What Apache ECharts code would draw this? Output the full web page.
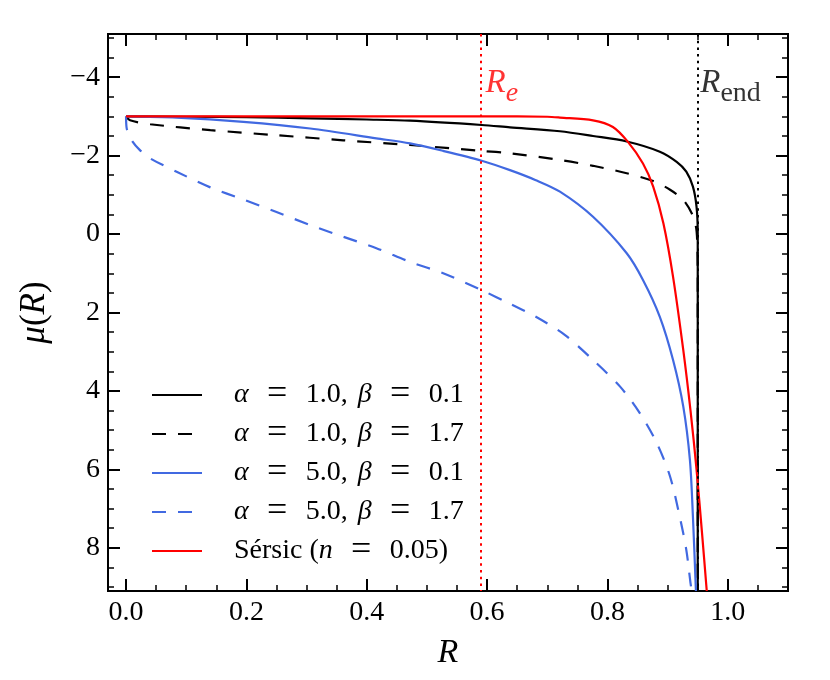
<!DOCTYPE html>
<html>
<head>
<meta charset="utf-8">
<title>mu(R)</title>
<script src="https://cdn.jsdelivr.net/npm/echarts@6/dist/echarts.min.js"></script>
<style>
    html, body {margin: 0; padding: 0; background: #fff;}
    #chart {width: 830px; height: 680px;}
</style>
</head>
<body>
<div id="chart"></div>
<script>
// 曲线数据，每个点为 [R, mu]
var a1b01 = [[0,-3],[0.1,-2.99],[0.2,-2.98],[0.306,-2.95],[0.4,-2.92],[0.472,-2.89],[0.591,-2.78],[0.638,-2.72],
    [0.721,-2.62],[0.776,-2.5],[0.832,-2.36],[0.887,-2.1],[0.915,-1.84],[0.931,-1.59],[0.942,-1.21],[0.948,-0.7],
    [0.95,-0.02],[0.95,9.1]];
var a1b17 = [[0,-3],[0.0066,-2.9],[0.04,-2.8],[0.14,-2.65],[0.25,-2.52],[0.361,-2.39],[0.472,-2.27],[0.591,-2.12],
    [0.638,-2.06],[0.721,-1.89],[0.776,-1.74],[0.832,-1.55],[0.876,-1.35],[0.904,-1.13],[0.926,-0.87],[0.94,-0.53],
    [0.947,-0.19],[0.949,0.15],[0.95,1.0],[0.95,9.1]];
var a5b01 = [[0,-3],[0.084,-2.97],[0.195,-2.86],[0.306,-2.69],[0.416,-2.44],[0.472,-2.31],[0.527,-2.12],[0.591,-1.87],
    [0.638,-1.63],[0.68,-1.38],[0.721,-1.08],[0.776,-0.44],[0.832,0.49],[0.859,1.17],[0.887,2.11],[0.909,3.21],
    [0.926,4.4],[0.937,5.76],[0.942,7.2],[0.947,9.1]];
var a5b17 = [[0,-3],[0.001,-2.7],[0.0094,-2.39],[0.023,-2.14],[0.04,-1.93],[0.084,-1.59],[0.14,-1.19],[0.195,-0.88],
    [0.25,-0.56],[0.306,-0.23],[0.361,0.07],[0.416,0.36],[0.472,0.71],[0.527,1.0],[0.591,1.43],[0.638,1.78],
    [0.68,2.1],[0.729,2.57],[0.776,3.21],[0.821,3.89],[0.854,4.57],[0.882,5.33],[0.904,6.18],[0.92,7.2],
    [0.931,8.05],[0.938,8.9],[0.94,9.1]];
var sersic = [[0,-3],[0.2,-3],[0.4,-3],[0.6,-3],[0.7,-2.99],[0.721,-2.97],[0.776,-2.9],[0.809,-2.73],[0.834,-2.35],
    [0.859,-1.8],[0.876,-1.21],[0.893,-0.27],[0.909,1.09],[0.926,2.96],[0.938,4.5],[0.948,6.0],[0.957,7.6],[0.965,9.1]];

var seriesNames = ['α = 1.0, β = 0.1', 'α = 1.0, β = 1.7', 'α = 5.0, β = 0.1', 'α = 5.0, β = 1.7', 'Sérsic (n = 0.05)'];

// 坐标轴范围与刻度
var xRange = [-0.03, 1.1];
var yRange = [-5.1, 9.1];
var xMajor = [0, 0.2, 0.4, 0.6, 0.8, 1.0];
var xMinor = [0.05, 0.1, 0.15, 0.25, 0.3, 0.35, 0.45, 0.5, 0.55, 0.65, 0.7, 0.75, 0.85, 0.9, 0.95, 1.05];
var yMajor = [-4, -2, 0, 2, 4, 6, 8];
var yMinor = [-5, -4.5, -3.5, -3, -2.5, -1.5, -1, -0.5, 0.5, 1, 1.5, 2.5, 3, 3.5, 4.5, 5, 5.5, 6.5, 7, 7.5, 8.5, 9];
var rE = 0.59, rEnd = 0.95;

var FONT = '"Liberation Serif", "DejaVu Serif", serif';
var BLUE = '#4169e1';

function makeAxis(dim, pos, ticks, len, showLabel) {
    let range = dim === 'x' ? xRange : yRange;
    let axis = {
        type: 'value',
        position: pos,
        min: range[0],
        max: range[1],
        axisLine: {show: true, onZero: false, lineStyle: {color: '#000', width: 2}},
        axisTick: {
            show: true, inside: true, length: len, customValues: ticks,
            lineStyle: {color: '#000', width: len > 8 ? 2 : 1.5}
        },
        axisLabel: {
            show: showLabel, customValues: ticks, color: '#000',
            fontFamily: FONT, fontSize: 28, margin: 8,
            formatter: function (v) {
                if (dim === 'x') return v.toFixed(1);
                return v < 0 ? '\u2212' + Math.abs(v) : String(v);
            }
        },
        splitLine: {show: false}
    };
    if (dim === 'y') axis.inverse = true;
    return axis;
}

// 图例文字：希腊字母斜体，等号按数学排版加宽
function fmtLegend(name) {
    let s = name.replace(/([αβn])/g, '{i|$1}')
        .replace(/ = /g, '{g|}{eq|=}{g|}')
        .replace(/, /g, ',{c|}');
    return '{sp|}' + s;
}

function curve(name, data, color, dashed) {
    return {
        name: name, type: 'line', data: data, symbol: 'none', smooth: 0.3,
        xAxisIndex: 0, yAxisIndex: 0,
        lineStyle: {color: color, width: 2.2, type: dashed ? [14, 12] : 'solid'},
        itemStyle: {color: color},
        emphasis: {disabled: true}
    };
}

// 竖直参考线 + 标注
function marker(name, x, color, sub, dist) {
    return {
        name: name, type: 'scatter', data: [[x, -3.83]], symbolSize: 1,
        itemStyle: {color: 'rgba(0,0,0,0)'},
        silent: true, z: 1,
        label: {
            show: true, position: 'right', distance: dist,
            formatter: '{r|R}{s|' + sub + '}',
            rich: {
                r: {fontFamily: FONT, fontStyle: 'italic', fontSize: 33, lineHeight: 33, color: color, verticalAlign: 'top'},
                s: {fontFamily: FONT, fontStyle: sub === 'e' ? 'italic' : 'normal', fontSize: 28, lineHeight: 28,
                    color: color, verticalAlign: 'top', padding: [12, 0, 0, 0]}
            }
        },
        markLine: {
            silent: true, symbol: ['none', 'none'], label: {show: false},
            lineStyle: {color: color, width: 2, type: [2.5, 4.2]},
            data: [{xAxis: x}]
        }
    };
}

var myChart = echarts.init(document.getElementById('chart'));
var option = {
    animation: false,
    backgroundColor: '#fff',
    grid: {left: 108, top: 34, width: 680, height: 557, containLabel: false},
    xAxis: [
        Object.assign(makeAxis('x', 'bottom', xMajor, 12, true), {
            name: 'R', nameLocation: 'middle', nameGap: 45,
            nameTextStyle: {fontFamily: FONT, fontStyle: 'italic', fontSize: 34, color: '#000'}
        }),
        makeAxis('x', 'bottom', xMinor, 6, false),
        makeAxis('x', 'top', xMajor, 12, false),
        makeAxis('x', 'top', xMinor, 6, false)
    ],
    yAxis: [
        Object.assign(makeAxis('y', 'left', yMajor, 12, true), {
            name: '{i|μ}({i|R})', nameLocation: 'middle', nameGap: 56, nameRotate: 90,
            nameTextStyle: {
                fontFamily: FONT, fontSize: 35, color: '#000',
                rich: {i: {fontFamily: FONT, fontStyle: 'italic', fontSize: 35, color: '#000'}}
            }
        }),
        makeAxis('y', 'left', yMinor, 6, false),
        makeAxis('y', 'right', yMajor, 12, false),
        makeAxis('y', 'right', yMinor, 6, false)
    ],
    legend: {
        data: seriesNames,
        orient: 'vertical',
        left: 146, top: 372,
        itemWidth: 50, itemHeight: 14, itemGap: 3,
        selectedMode: false,
        itemStyle: {opacity: 0},
        formatter: fmtLegend,
        textStyle: {
            fontFamily: FONT, fontSize: 28, color: '#000', lineHeight: 30,
            rich: {
                sp: {width: 27},
                g: {width: 15},
                c: {width: 10},
                eq: {fontFamily: FONT, fontSize: 36, width: 27, align: 'center', color: '#000'},
                i: {fontFamily: FONT, fontStyle: 'italic', fontSize: 28, color: '#000'}
            }
        }
    },
    series: [
        marker('Re', rE, '#ff0000', 'e', 4),
        marker('Rend', rEnd, '#000', 'end', 2),
        curve(seriesNames[0], a1b01, '#000', false),
        curve(seriesNames[1], a1b17, '#000', true),
        curve(seriesNames[2], a5b01, BLUE, false),
        curve(seriesNames[3], a5b17, BLUE, true),
        curve(seriesNames[4], sersic, '#ff0000', false)
    ]
};
myChart.setOption(option);
</script>
</body>
</html>
